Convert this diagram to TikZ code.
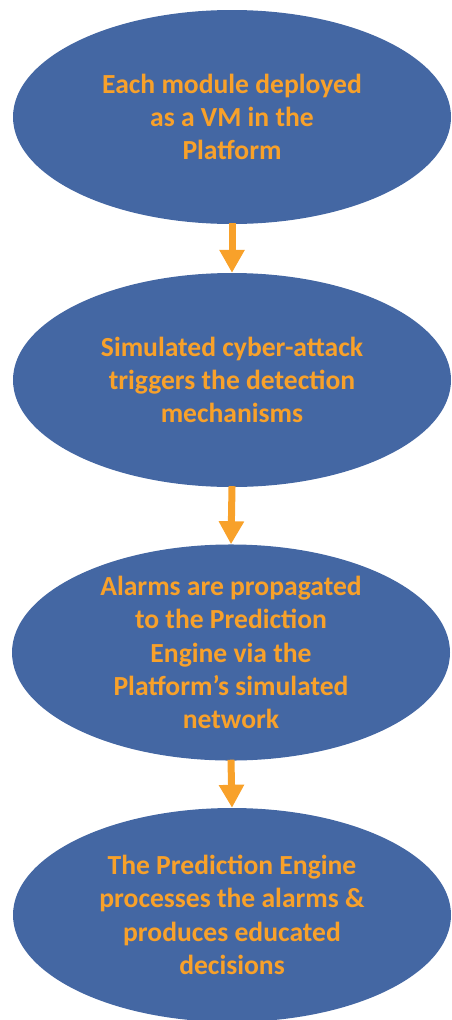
\documentclass[tikz,border=0pt]{standalone}
\usepackage{fontspec}
\setmainfont{Carlito}
\usetikzlibrary{shapes.geometric,arrows.meta}
\definecolor{ellblue}{HTML}{4467A3}
\definecolor{txtorange}{HTML}{F8A12A}
\tikzset{
  stage/.style={ellipse, fill=ellblue, draw=none, minimum width=438pt, minimum height=214pt, inner sep=0pt,
    text=txtorange, align=center, font=\fontsize{27.6}{33.3}\selectfont\bfseries},
  flowarrow/.style={draw=txtorange, line width=7pt, -{Triangle[width=24pt,length=23pt]}, shorten <=-1pt}
}
\begin{document}
\begin{tikzpicture}[x=1pt,y=-1pt]
\useasboundingbox (0,0) rectangle (452,1020);
\node[stage] (e1) at (232,117) {Each module deployed\\as a VM in the\\Platform};
\node[stage] (e2) at (232,380) {Simulated cyber-attack\\triggers the detection\\mechanisms};
\node[stage] (e3) at (231,652.5) {Alarms are propagated\\to the Prediction\\Engine via the\\Platform’s simulated\\network};
\node[stage] (e4) at (232,915) {The Prediction Engine\\processes the alarms \&\\produces educated\\decisions};
\draw[flowarrow] (e1.south) -- (e2.north);
\draw[flowarrow] (e2.south) -- (e3.north);
\draw[flowarrow] (e3.south) -- (e4.north);
\end{tikzpicture}
\end{document}
